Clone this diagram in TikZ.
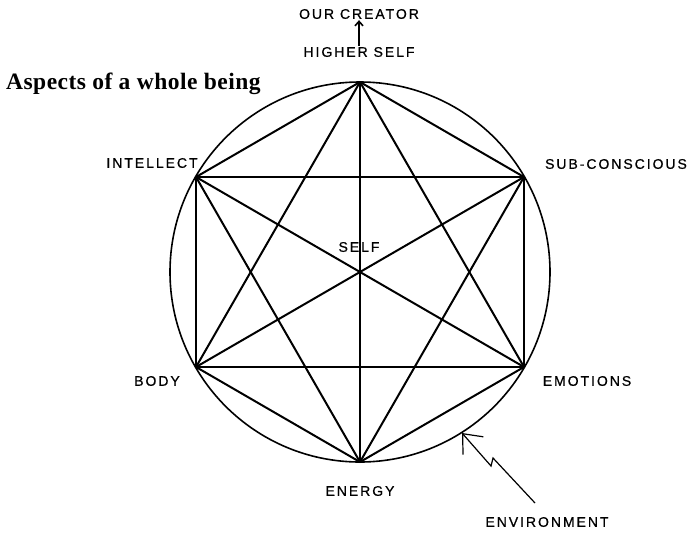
\documentclass[tikz,border=0pt]{standalone}
\usepackage{fontspec}
\setmainfont{Liberation Sans}
\newfontfamily\labelfont[LetterSpace=14, FakeBold=0.6]{Liberation Sans}
\newfontfamily\capfont[LetterSpace=2]{Liberation Serif}
\usetikzlibrary{arrows.meta}
\begin{document}
\begin{tikzpicture}[x=1pt,y=-1pt,
  lab/.style={font=\labelfont\fontsize{14}{16}\selectfont, inner sep=1pt},
  edge/.style={line width=2pt, line cap=round},
  ringline/.style={line width=1.6pt},
  envline/.style={line width=1.2pt, -{Straight Barb[length=16pt,width=27pt,line width=1.2pt]}},
  upline/.style={line width=1.8pt, -{Straight Barb[length=4.5pt,width=8pt,line width=1.6pt]}}]
\useasboundingbox (0,0) rectangle (688,536);
\fill[white] (0,0) rectangle (688,536);
% circle
\coordinate (C) at (360,272);
\draw[ringline] (C) circle (190);
% vertices
\coordinate (top) at (360,82);
\coordinate (ur) at (524,177);
\coordinate (lr) at (524,367);
\coordinate (bot) at (360,462);
\coordinate (ll) at (196,367);
\coordinate (ul) at (196,177);
\foreach \a/\b in {top/ur,ur/lr,lr/bot,bot/ll,ll/ul,ul/top,
                   top/lr,lr/ll,ll/top,ur/bot,bot/ul,ul/ur,
                   top/bot,ul/lr,ur/ll}
  \draw[edge] (\a) -- (\b);
% labels
\node[lab] (creator) at (359,14) {OUR CREATOR};
\node[lab] (higher) at (359,52) {HIGHER SELF};
\draw[upline] (higher.north) -- (creator.south);
\node[lab] (intellect) at (152,163) {INTELLECT};
\node[lab] (subc) at (616,164) {SUB-CONSCIOUS};
\node[lab] (body) at (157,381) {BODY};
\node[lab] (emotions) at (587,381) {EMOTIONS};
\node[lab] (energy) at (360,491) {ENERGY};
\node[lab] (self) at (359,247) {SELF};
\node[lab] (env) at (547,522) {ENVIRONMENT};
\node[font=\capfont\bfseries\fontsize{23.5}{27}\selectfont, anchor=base west, inner sep=0pt] (title) at (6,89) {Aspects of a whole being};
% environment arrow
\coordinate (envtail) at (535,503);
\coordinate (z1) at (493,458);
\coordinate (z2) at (491,466);
\coordinate (envtip) at (462,433);
\draw[envline] (envtail) -- (z1) -- (z2) -- (envtip);
\end{tikzpicture}
\end{document}
